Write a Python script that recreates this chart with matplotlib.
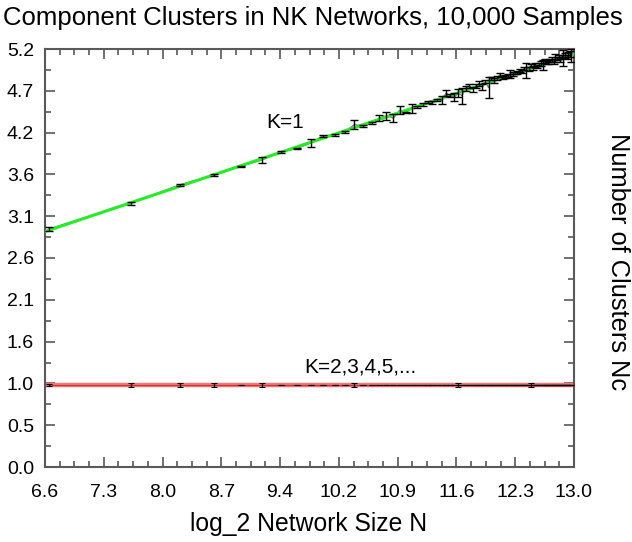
#!/usr/bin/env python
# -*- coding: utf-8 -*

import numpy as np
import matplotlib
matplotlib.use("Agg")
import matplotlib.pyplot as plt
from matplotlib.ticker import FixedLocator

plt.rcParams["font.family"] = ["Liberation Sans", "DejaVu Sans"]

# network sizes sampled (N = 100 ... 8000)
sizes = [100, 200, 300, 400, 500, 600, 700, 800, 900, 1000,
         1100, 1200, 1300, 1400, 1500, 1600, 1700, 1800, 1900, 2000,
         2100, 2200, 2300, 2400, 2500, 2600, 2700, 2800, 2900, 3000,
         3100, 3200, 3300, 3400, 3500, 3600, 3700, 3800, 3900, 4000,
         4100, 4200, 4300, 4400, 4500, 4600, 4700, 4800, 4900, 5000,
         5100, 5200, 5300, 5400, 5500, 5600, 5700, 5800, 5900, 6000,
         6100, 6200, 6300, 6400, 6500, 6600, 6700, 6800, 6900, 7000,
         7100, 7200, 7300, 7400, 7500, 7600, 7700, 7800, 7900, 8000]

# K=1 mean number of clusters and error
k1_mean = [2.96, 3.28, 3.51, 3.63, 3.74, 3.82, 3.92, 3.96, 4.03, 4.12,
           4.13, 4.17, 4.26, 4.24, 4.28, 4.34, 4.37, 4.34, 4.44, 4.41,
           4.46, 4.48, 4.51, 4.54, 4.53, 4.57, 4.56, 4.65, 4.62, 4.60,
           4.65, 4.62, 4.71, 4.74, 4.70, 4.74, 4.77, 4.73, 4.80, 4.72,
           4.83, 4.81, 4.84, 4.88, 4.85, 4.86, 4.87, 4.89, 4.89, 4.90,
           4.91, 4.93, 4.92, 4.96, 4.93, 4.95, 4.99, 4.96, 5.00, 4.98,
           5.01, 5.02, 5.00, 5.05, 5.03, 5.04, 5.06, 5.07, 5.04, 5.09,
           5.08, 5.10, 5.07, 5.11, 5.09, 5.12, 5.10, 5.13, 5.14, 5.12]
k1_err = [0.02, 0.015, 0.012, 0.01, 0.008, 0.04, 0.01, 0.008, 0.05, 0.01,
          0.01, 0.01, 0.06, 0.01, 0.012, 0.035, 0.05, 0.05, 0.045, 0.01,
          0.05, 0.012, 0.015, 0.01, 0.02, 0.012, 0.05, 0.04, 0.015, 0.05,
          0.05, 0.1, 0.03, 0.02, 0.03, 0.02, 0.035, 0.04, 0.02, 0.13,
          0.02, 0.03, 0.02, 0.025, 0.02, 0.015, 0.02, 0.05, 0.02, 0.015,
          0.02, 0.02, 0.015, 0.02, 0.09, 0.02, 0.02, 0.025, 0.02, 0.015,
          0.02, 0.03, 0.065, 0.02, 0.02, 0.025, 0.02, 0.03, 0.03, 0.05,
          0.02, 0.025, 0.03, 0.02, 0.1, 0.03, 0.03, 0.03, 0.04, 0.08]

# K=2,3,4,5,... mean number of clusters and error
k2_mean = [1.02, 1.02, 1.02, 1.02, 1.02, 1.02, 1.02, 1.02, 1.02, 1.02,
           1.02, 1.02, 1.02, 1.02, 1.02, 1.02, 1.02, 1.02, 1.02, 1.02,
           1.02, 1.02, 1.02, 1.02, 1.02, 1.02, 1.02, 1.02, 1.02, 1.02,
           1.02, 1.02, 1.02, 1.02, 1.02, 1.02, 1.02, 1.02, 1.02, 1.02,
           1.02, 1.02, 1.02, 1.02, 1.02, 1.02, 1.02, 1.02, 1.02, 1.02,
           1.02, 1.02, 1.02, 1.02, 1.02, 1.02, 1.02, 1.02, 1.02, 1.02,
           1.02, 1.02, 1.02, 1.02, 1.02, 1.02, 1.02, 1.02, 1.02, 1.02,
           1.02, 1.02, 1.02, 1.02, 1.02, 1.02, 1.02, 1.02, 1.02, 1.02]
k2_err = [0.01, 0.03, 0.03, 0.025, 0.004, 0.025, 0.004, 0.004, 0.004, 0.004,
          0.004, 0.004, 0.025, 0.004, 0.004, 0.004, 0.004, 0.004, 0.004, 0.004,
          0.004, 0.004, 0.004, 0.004, 0.004, 0.004, 0.004, 0.004, 0.004, 0.004,
          0.025, 0.004, 0.004, 0.004, 0.004, 0.004, 0.004, 0.004, 0.004, 0.004,
          0.004, 0.004, 0.004, 0.004, 0.004, 0.004, 0.004, 0.004, 0.004, 0.004,
          0.004, 0.004, 0.004, 0.004, 0.004, 0.004, 0.025, 0.004, 0.004, 0.004,
          0.004, 0.004, 0.004, 0.004, 0.004, 0.004, 0.004, 0.004, 0.004, 0.004,
          0.004, 0.004, 0.004, 0.004, 0.004, 0.004, 0.004, 0.004, 0.004, 0.004]

# fitted lines (end points)
fit_x = [6.6, 13.0]
k1_fit = [2.93, 5.14]
k2_fit = [1.02, 1.02]

x_ticks = [6.6, 7.3, 8.0, 8.7, 9.4, 10.2, 10.9, 11.6, 12.3, 13.0]
y_ticks = [0.0, 0.5, 1.0, 1.6, 2.1, 2.6, 3.1, 3.6, 4.2, 4.7, 5.2]

x = np.log2(sizes)

fig = plt.figure(figsize=(6.32, 5.42), dpi=100)
ax = fig.add_axes([45 / 632, 75 / 542, 529 / 632, 418 / 542])

ax.plot(fit_x, k2_fit, color="#f07878", lw=3.2, zorder=2)
ax.plot(x, k2_mean, color="#d03030", lw=0.8, zorder=3)
ax.errorbar(x, k2_mean, yerr=k2_err, fmt="none", ecolor="black",
            elinewidth=1, capsize=2.5, capthick=0.8, zorder=4)

ax.plot(x, k1_mean, color="0.45", lw=0.9, zorder=2)
ax.plot(fit_x, k1_fit, color="#22ee22", lw=2.2, zorder=3)
ax.errorbar(x, k1_mean, yerr=k1_err, fmt="none", ecolor="black",
            elinewidth=1, capsize=3, capthick=1, zorder=4)

ax.text(9.5, 4.29, "K=1", fontsize=15, ha="center", va="center")
ax.text(10.41, 1.24, "K=2,3,4,5,...", fontsize=15, ha="center", va="center")

ax.set_xlim(6.6, 13.0)
ax.set_ylim(0.0, 5.2)
ax.xaxis.set_major_locator(FixedLocator(np.linspace(6.6, 13.0, 10)))
ax.xaxis.set_minor_locator(FixedLocator(np.linspace(6.6, 13.0, 37)))
ax.yaxis.set_major_locator(FixedLocator(np.linspace(0.0, 5.2, 11)))
ax.yaxis.set_minor_locator(FixedLocator(np.linspace(0.0, 5.2, 21)))
ax.set_xticklabels([f"{v:.1f}" for v in x_ticks])
ax.set_yticklabels([f"{v:.1f}" for v in y_ticks])

ax.tick_params(which="both", direction="in", top=True, right=True,
               color="0.35", width=1.2, labelsize=14)
ax.tick_params(axis="x", pad=12)
ax.tick_params(axis="y", pad=8)
ax.tick_params(which="major", length=7)
ax.tick_params(which="minor", length=4)
for s in ax.spines.values():
    s.set_color("0.35")
    s.set_linewidth(1.5)

fig.text(313 / 632, 1 - 18 / 542, "Component Clusters in NK Networks, 10,000 Samples",
         fontsize=18.5, ha="center", va="center")
fig.text(309 / 632, 1 - 524 / 542, "log_2 Network Size N",
         fontsize=17.8, ha="center", va="center")
fig.text(618 / 632, 1 - 262 / 542, "Number of Clusters Nc",
         fontsize=18.3, ha="center", va="center", rotation=-90)

fig.savefig("out.png", dpi=100)
